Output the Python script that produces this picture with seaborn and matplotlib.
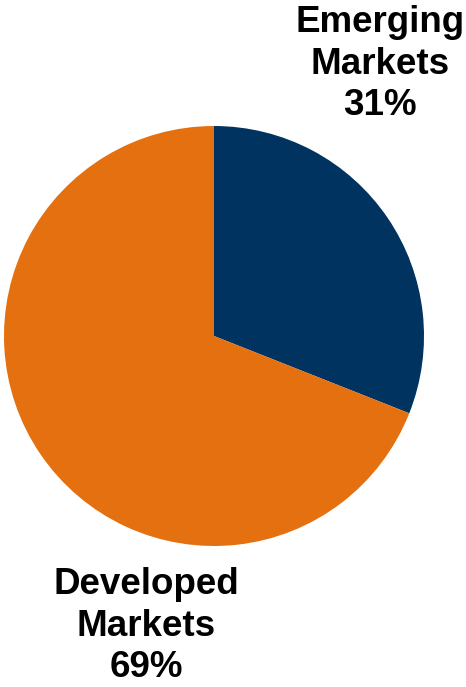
import matplotlib
matplotlib.use("Agg")
import matplotlib.pyplot as plt
import seaborn as sns

# Portfolio split by market type
categories = ["Emerging\nMarkets", "Developed\nMarkets"]
shares = [31, 69]
slice_colors = ["#00335F", "#E4700F"]

sns.set_theme(style="white")
plt.rcParams["font.family"] = ["Liberation Sans", "DejaVu Sans"]
palette = sns.color_palette(slice_colors)

W, H = 466, 687
fig = plt.figure(figsize=(W / 100, H / 100), dpi=100)
fig.patch.set_facecolor("white")

# pie square: 420 px across, centred at (214, 336) px
cx, cy, r = 214, 336, 210
ax = fig.add_axes([(cx - r) / W, (H - cy - r) / H, 2 * r / W, 2 * r / H])
ax.pie(shares, colors=palette, startangle=90, counterclock=False,
       radius=1.0, wedgeprops=dict(linewidth=0))
ax.set_xlim(-1, 1)
ax.set_ylim(-1, 1)
ax.set_aspect("equal")
ax.axis("off")

# outside labels with percentage
label_pos = [(380, 64), (146, 626)]
for name, val, (px, py) in zip(categories, shares, label_pos):
    fig.text(px / W, 1 - py / H, f"{name}\n{val}%", ha="center", va="center",
             fontsize=26.5, fontweight="bold", color="black", linespacing=1.24)

fig.savefig("out.png", dpi=100, facecolor="white")
